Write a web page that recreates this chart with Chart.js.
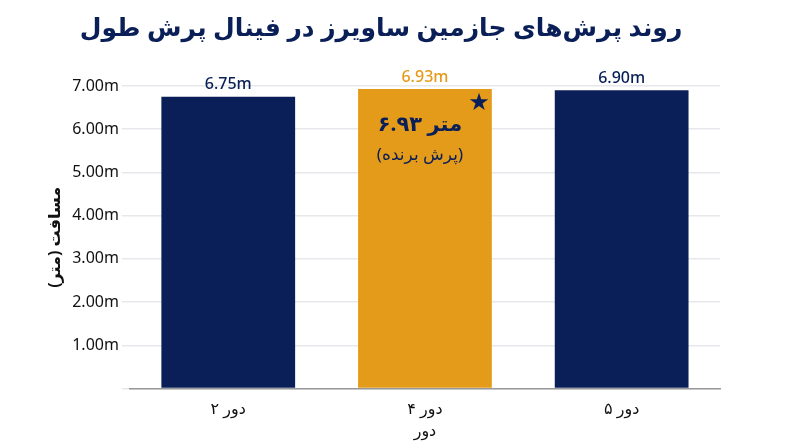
<!DOCTYPE html>
<html><head><meta charset="utf-8">
<script src="https://cdn.jsdelivr.net/npm/chart.js@4"></script>
<style>html,body{margin:0;padding:0;background:#fff}#wrap{width:800px;height:447px}</style>
</head><body><div id="wrap"><canvas id="c"></canvas></div>
<script>
const rounds = ["دور ۲", "دور ۴", "دور ۵"];
const distances = [6.75, 6.93, 6.90];
const barColors = ["#0a1f57", "#e59b1a", "#0a1f57"];
const labelColors = ["#0a1f57", "#e59b1a", "#0a1f57"];
const winnerIndex = 1;
const FONT = "'Noto Sans','DejaVu Sans',sans-serif";

// برچسب‌ها روی ستون‌ها
const labelsPlugin = {
  id: "labels",
  afterDatasetsDraw(chart) {
    const ctx = chart.ctx;
    const meta = chart.getDatasetMeta(0);
    ctx.save();
    ctx.textAlign = "center";
    meta.data.forEach((bar, i) => {
      ctx.fillStyle = labelColors[i];
      ctx.font = "500 16px " + FONT;
      ctx.textBaseline = "bottom";
      ctx.fillText(distances[i].toFixed(2) + "m", bar.x, bar.y - 4);
    });
    const w = meta.data[winnerIndex];
    ctx.fillStyle = "#0a1f57";
    ctx.font = "bold 21px " + FONT;
    ctx.textBaseline = "middle";
    ctx.fillText("۶.۹۳ متر", w.x - 5, w.y + 36);
    ctx.font = "17px " + FONT;
    ctx.fillText("(پرش برنده)", w.x - 5, w.y + 66);
    ctx.font = "24px " + FONT;
    ctx.fillText("★", w.x + 54, w.y + 14);
    ctx.restore();
  }
};

new Chart(document.getElementById("c"), {
  type: "bar",
  data: {
    labels: rounds,
    datasets: [{ data: distances, backgroundColor: barColors, barPercentage: 0.68, categoryPercentage: 1 }]
  },
  options: {
    responsive: true,
    maintainAspectRatio: false,
    animation: false,
    layout: { padding: { left: 42, right: 80, top: 10, bottom: 6 } },
    plugins: {
      legend: { display: false },
      tooltip: { enabled: false },
      title: {
        display: true,
        text: "روند پرش‌های جازمین ساویرز در فینال پرش طول",
        color: "#0a1f57",
        font: { family: FONT, size: 25, weight: "bold" },
        padding: { top: 4, bottom: 42 }
      }
    },
    scales: {
      x: {
        grid: { display: false },
        border: { color: "#999", width: 1.5 },
        ticks: { color: "#111", font: { family: FONT, size: 16 } },
        title: { display: true, text: "دور", color: "#111", font: { family: FONT, size: 16 }, padding: 0 }
      },
      y: {
        min: 0, max: 7,
        ticks: { stepSize: 1, color: "#111", font: { family: FONT, size: 16 },
          callback: v => v === 0 ? "" : v.toFixed(2) + "m" },
        grid: { color: "#e6e8ec", lineWidth: 1.5 },
        border: { display: false },
        title: { display: true, text: "مسافت (متر)", color: "#111", font: { family: FONT, size: 16, weight: "bold" } }
      }
    }
  },
  plugins: [labelsPlugin]
});
</script></body></html>
